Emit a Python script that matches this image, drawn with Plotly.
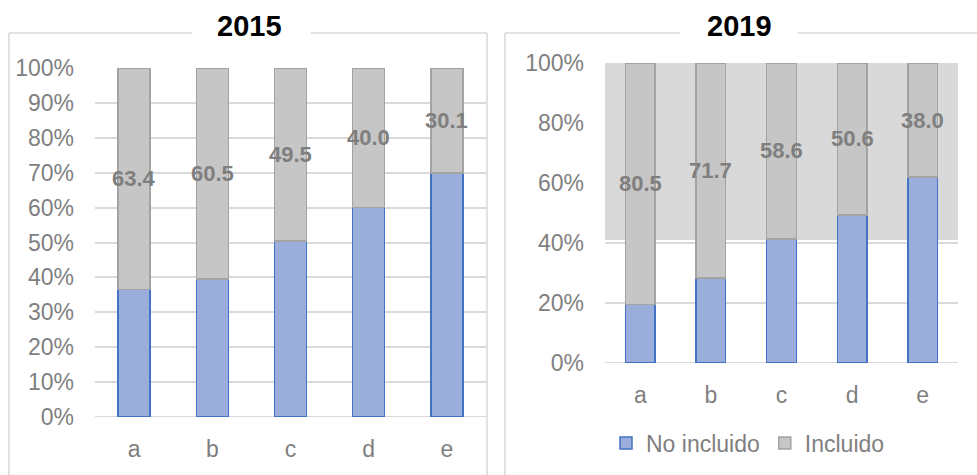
import plotly.graph_objects as go

# Categories and shares (%)
categories = ["a", "b", "c", "d", "e"]
incluido_2015 = [63.4, 60.5, 49.5, 40.0, 30.1]
no_incluido_2015 = [36.6, 39.5, 50.5, 60.0, 69.9]
incluido_2019 = [80.5, 71.7, 58.6, 50.6, 38.0]
no_incluido_2019 = [19.5, 28.3, 41.4, 49.4, 62.0]
ticks_2015 = list(range(0, 101, 10))
ticks_2019 = list(range(0, 101, 20))

W, H = 977, 475
BLUE_FILL, BLUE_LINE = "#9badda", "#4472c4"
GREY_FILL, GREY_LINE = "#c6c6c6", "#a3a3a3"
TXT = "#7f7f7f"
FRAME = "#d9d9d9"
FONT = "Liberation Sans, Arial, sans-serif"


def px(x):
    return x / W


def py(y):
    return 1 - y / H


fig = go.Figure()

panels = [
    ("x", "y", no_incluido_2015, incluido_2015, 0.41, True),
    ("x2", "y2", no_incluido_2019, incluido_2019, 0.42, False),
]
for xa, ya, blue, grey, bw, first in panels:
    fig.add_trace(go.Bar(
        x=categories, y=blue, name="No incluido", xaxis=xa, yaxis=ya,
        width=bw, marker=dict(color=BLUE_FILL, line=dict(color=BLUE_LINE, width=1.5)),
        showlegend=not first, legendgroup="no", hoverinfo="skip",
    ))
    fig.add_trace(go.Bar(
        x=categories, y=grey, name="Incluido", xaxis=xa, yaxis=ya,
        width=bw, marker=dict(color=GREY_FILL, line=dict(color=GREY_LINE, width=1.5)),
        showlegend=not first, legendgroup="si", hoverinfo="skip",
    ))
    # value labels centred on the "Incluido" segment
    for c, b, g in zip(categories, blue, grey):
        fig.add_annotation(
            x=c, y=b + g / 2, xref=xa, yref=ya, text=f"{g:.1f}", showarrow=False,
            font=dict(family=FONT, size=22, color=TXT, weight="bold"),
        )

axis_common = dict(
    tickfont=dict(family=FONT, size=23, color=TXT),
    showline=False, zeroline=False, fixedrange=True, automargin=False,
)

fig.update_layout(
    width=W, height=H, margin=dict(l=0, r=0, t=0, b=0, autoexpand=False),
    paper_bgcolor="white", plot_bgcolor="rgba(0,0,0,0)",
    barmode="stack", showlegend=True,
    xaxis=dict(domain=[px(95), px(486)], anchor="y", showgrid=False,
               ticklabelstandoff=16, **axis_common),
    yaxis=dict(domain=[py(417), py(68)], anchor="x", range=[0, 100],
               tickvals=ticks_2015, ticktext=[f"{t}%" for t in ticks_2015],
               showgrid=True, gridcolor=FRAME, gridwidth=1.5,
               ticklabelstandoff=20, **axis_common),
    xaxis2=dict(domain=[px(605), px(958)], anchor="y2", showgrid=False,
                ticklabelstandoff=16, **axis_common),
    yaxis2=dict(domain=[py(363), py(63)], anchor="x2", range=[0, 100],
                tickvals=ticks_2019, ticktext=[f"{t}%" for t in ticks_2019],
                showgrid=True, gridcolor=FRAME, gridwidth=1.5,
                ticklabelstandoff=20, **axis_common),
    legend=dict(orientation="h", x=px(748), y=py(443), xanchor="center", yanchor="middle",
                font=dict(family=FONT, size=23, color=TXT), traceorder="normal",
                itemwidth=30, bgcolor="rgba(0,0,0,0)"),
)

# baseline of each panel
for xa, ya in (("x", "y"), ("x2", "y2")):
    fig.add_shape(type="line", xref=f"{xa} domain", yref=ya, x0=0, x1=1, y0=0, y1=0,
                  line=dict(color=FRAME, width=2), layer="below")

# grey band in the 2019 plot area
fig.add_shape(type="rect", xref="x2 domain", yref="y2", x0=0, x1=1, y0=41, y1=100,
              fillcolor="#d9d9d9", line=dict(width=0), layer="below")

# chart frames with the title gap in the top edge
frame_lines = [
    (9, 33, 192, 33), (311, 33, 487, 33), (9, 33, 9, 475), (487, 33, 487, 475),
    (505, 33, 680, 33), (798, 33, 977, 33), (505, 33, 505, 475),
]
for x0, y0, x1, y1 in frame_lines:
    fig.add_shape(type="line", xref="paper", yref="paper",
                  x0=px(x0), y0=py(y0), x1=px(x1), y1=py(y1),
                  line=dict(color=FRAME, width=1.5))

for title, cx in (("2015", 249), ("2019", 739)):
    fig.add_annotation(x=px(cx), y=py(26), xref="paper", yref="paper", text=title,
                       showarrow=False, xanchor="center", yanchor="middle",
                       font=dict(family=FONT, size=29, color="black", weight="bold"))

fig.write_html("out.html")
